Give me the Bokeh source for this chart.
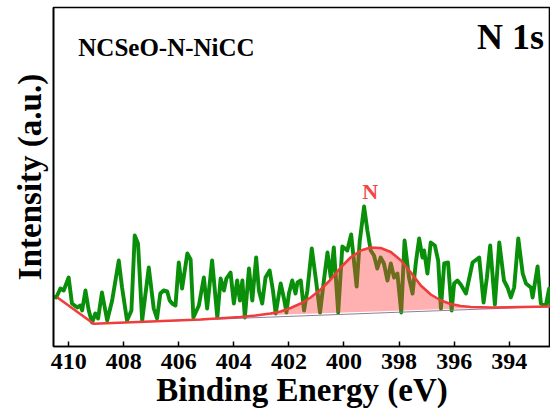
from bokeh.plotting import figure
from bokeh.models import Range1d, FixedTicker, Label
from bokeh.embed import file_html
from bokeh.resources import INLINE

# Raw N 1s spectrum (binding energy eV, intensity a.u.)
energy = [410.54, 410.45, 410.30, 410.18, 410.00, 409.88, 409.69, 409.57, 409.51, 409.39,
          409.27, 409.15, 409.03, 408.93, 408.79, 408.60, 408.42, 408.18, 408.06, 407.88,
          407.72, 407.60, 407.48, 407.33, 407.09, 406.91, 406.79, 406.67, 406.55, 406.42,
          406.33, 406.24, 406.12, 406.00, 405.88, 405.69, 405.57, 405.47, 405.27, 405.09,
          404.97, 404.79, 404.60, 404.48, 404.36, 404.27, 404.12, 404.00, 403.88, 403.78,
          403.69, 403.60, 403.45, 403.33, 403.19, 403.09, 402.97, 402.85, 402.70, 402.58,
          402.48, 402.30, 402.18, 402.09, 402.00, 401.88, 401.76, 401.69, 401.57, 401.45,
          401.33, 401.17, 401.03, 400.87, 400.73, 400.60, 400.48, 400.37, 400.21, 400.06,
          399.88, 399.74, 399.54, 399.43, 399.36, 399.27, 399.15, 399.03, 398.91, 398.79,
          398.67, 398.55, 398.42, 398.30, 398.18, 398.06, 397.92, 397.80, 397.64, 397.51,
          397.39, 397.27, 397.15, 397.09, 396.97, 396.85, 396.70, 396.58, 396.48, 396.36,
          396.22, 396.09, 396.00, 395.88, 395.76, 395.57, 395.33, 395.09, 394.93, 394.81,
          394.69, 394.52, 394.36, 394.19, 394.06, 393.94, 393.82, 393.67, 393.51, 393.39,
          393.21, 393.15, 392.97, 392.85, 392.67, 392.55, 392.50]
intensity = [50, 49, 58, 56, 69, 43, 39, 41, 36, 56,
             36, 24, 33, 28, 54, 26, 46, 86, 59, 26,
             36, 111, 103, 26, 79, 38, 28, 53, 56, 55,
             46, 43, 41, 84, 58, 93, 87, 29, 41, 69,
             38, 86, 29, 68, 56, 68, 74, 43, 66, 46,
             66, 29, 78, 46, 89, 56, 43, 69, 76, 56,
             33, 63, 48, 34, 53, 66, 53, 64, 66, 36,
             56, 98, 69, 34, 66, 94, 69, 99, 34, 100,
             96, 112, 60, 105, 120, 140, 116, 96, 91, 78,
             89, 83, 66, 83, 69, 73, 34, 106, 69, 53,
             84, 108, 89, 96, 73, 104, 101, 86, 38, 83,
             84, 36, 63, 66, 62, 53, 84, 89, 44, 69,
             101, 42, 104, 66, 59, 49, 59, 108, 73, 63,
             59, 49, 80, 43, 41, 58, 41]

# Fitted envelope (background + N component)
env_energy = [410.42, 409.09, 407.03, 405.21, 403.76, 403.21, 402.67, 402.30, 401.94, 401.57,
              401.21, 400.85, 400.48, 400.12, 399.76, 399.39, 399.03, 398.67, 398.30, 397.93,
              397.57, 397.21, 396.85, 396.48, 396.12, 395.76, 395.39, 394.66, 392.52]
env_int = [49.3, 22.7, 25, 27, 29.5, 31, 33, 35, 38.5, 43,
           49, 57, 67, 79, 89, 96, 99, 98.5, 94.5, 86,
           74, 61, 52, 46, 42.5, 40.5, 39.5, 39, 40]

# Linear background
bg_energy = [409.09, 392.52]
bg_int = [22.7, 40]

xticks = [410, 408, 406, 404, 402, 400, 398, 396, 394]

FONT = "Liberation Serif"

p = figure(width=550, height=420, output_backend="svg", toolbar_location=None,
           x_range=Range1d(410.55, 392.5), y_range=Range1d(0, 339),
           min_border_left=53, min_border_right=0, min_border_top=7, min_border_bottom=74)
p.background_fill_color = "white"
p.border_fill_color = "white"
p.outline_line_color = "black"
p.outline_line_width = 1.6
p.grid.visible = False

# raw data
p.line(energy, intensity, line_color="#0a8f0a", line_width=3.9, line_join="round")

# shaded component area (peak region of the envelope, closed on background)
pk_E = env_energy[5:28]
pk_I = env_int[5:28]
p.patch(pk_E, pk_I, fill_color="#ff3a3a", fill_alpha=0.4, line_color=None)

p.line(bg_energy, bg_int, line_color="#8a7f9a", line_width=1)
p.line(env_energy, env_int, line_color="#f03c3c", line_width=2.6)

# axes
xa = p.xaxis[0]
xa.ticker = FixedTicker(ticks=xticks)
xa.major_tick_in = 5
xa.major_tick_out = 0
xa.minor_tick_line_color = None
xa.major_tick_line_width = 1.5
xa.axis_line_width = 1.6
xa.major_label_text_font = FONT
xa.major_label_text_font_style = "bold"
xa.major_label_text_font_size = "24px"
xa.major_label_text_color = "black"
xa.major_label_standoff = 7
xa.axis_label = "Binding Energy (eV)"
xa.axis_label_text_font = FONT
xa.axis_label_text_font_style = "bold"
xa.axis_label_text_font_size = "33px"
xa.axis_label_text_color = "black"
xa.axis_label_standoff = 0

ya = p.yaxis[0]
ya.ticker = FixedTicker(ticks=[])
ya.major_tick_line_color = None
ya.minor_tick_line_color = None
ya.major_label_text_font_size = "0px"
ya.axis_line_width = 1.6
ya.axis_label = "Intensity (a.u.)"
ya.axis_label_text_font = FONT
ya.axis_label_text_font_style = "bold"
ya.axis_label_text_font_size = "33px"
ya.axis_label_text_color = "black"
ya.axis_label_standoff = 6

p.add_layout(Label(x=409.65, y=299, text="NCSeO-N-NiCC", text_font=FONT,
                   text_font_style="bold", text_font_size="25px", text_color="black",
                   text_align="left", text_baseline="alphabetic"))
p.add_layout(Label(x=392.74, y=310, text="N 1s", text_font=FONT,
                   text_font_style="bold", text_font_size="36px", text_color="black",
                   text_align="right", text_baseline="alphabetic"))
p.add_layout(Label(x=399.05, y=155, text="N", text_font=FONT,
                   text_font_style="bold", text_font_size="22px", text_color="#f24545",
                   text_align="center", text_baseline="alphabetic"))

open("out.html", "w").write(file_html(p, INLINE))
